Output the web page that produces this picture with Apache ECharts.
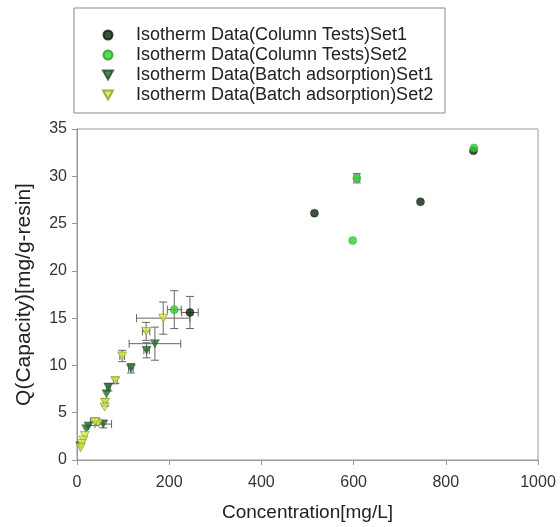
<!DOCTYPE html>
<html>
<head>
<meta charset="utf-8">
<script src="https://cdn.jsdelivr.net/npm/echarts@6/dist/echarts.min.js"></script>
<style>
  html, body { margin: 0; padding: 0; background: #fff; }
  #chart { width: 560px; height: 527px; }
</style>
</head>
<body>
<div id="chart"></div>
<script>
// series names
const names = [
  "Isotherm Data(Column Tests)Set1",
  "Isotherm Data(Column Tests)Set2",
  "Isotherm Data(Batch adsorption)Set1",
  "Isotherm Data(Batch adsorption)Set2"
];

// points [concentration, capacity]
const colSet1 = [[515, 26.1], [745, 27.3], [860, 32.7], [245, 15.6]];
const colSet2 = [[607, 29.8], [598, 23.2], [861, 33.0], [211, 15.9]];
const batchSet1 = [[169, 12.3], [151, 11.6], [117, 9.7], [68, 7.7], [64, 7.0], [57, 3.8], [25, 3.6], [20, 3.3], [7, 1.5]];
const batchSet2 = [[187, 15.0], [150, 13.6], [98, 11.0], [83, 8.4], [61, 6.1], [60, 5.6], [46, 3.9], [39, 4.05], [17, 2.6], [14, 2.1], [10, 1.75], [8, 1.3]];

// error bars [x, y, xErr, yErr]
const colSet1Err = [[245, 15.6, 18, 1.7]];
const colSet2Err = [[211, 15.9, 15, 2.0], [607, 29.8, 6, 0.5]];
const batchSet1Err = [[169, 12.3, 56, 1.75], [151, 11.6, 6, 0.8], [117, 9.7, 5, 0.5], [68, 7.7, 4, 0.4], [57, 3.8, 18, 0.4]];
const batchSet2Err = [[187, 15.0, 58, 1.7], [150, 13.6, 8, 0.95], [98, 11.0, 5, 0.6], [83, 8.4, 4, 0.3], [61, 6.1, 4, 0.4], [39, 4.05, 10, 0.4]];

const colors = ["#0c260f", "#36cc36", "#1f6a2a", "#d5e64c"];
const downTri = "path://M0,0L10,0L5,9Z";
const font = "Liberation Sans, Arial, sans-serif";

function errorSeries(data) {
  return {
    type: "custom",
    silent: true,
    z: 1,
    data: data,
    renderItem: function (params, api) {
      const x = api.value(0), y = api.value(1), dx = api.value(2), dy = api.value(3);
      const l = api.coord([x - dx, y]), r = api.coord([x + dx, y]);
      const t = api.coord([x, y + dy]), b = api.coord([x, y - dy]);
      const cap = 4;
      const style = { stroke: "#666", lineWidth: 1, fill: null };
      const lines = [
        [l, r], [t, b],
        [[l[0], l[1] - cap], [l[0], l[1] + cap]],
        [[r[0], r[1] - cap], [r[0], r[1] + cap]],
        [[t[0] - cap, t[1]], [t[0] + cap, t[1]]],
        [[b[0] - cap, b[1]], [b[0] + cap, b[1]]]
      ];
      return {
        type: "group",
        children: lines.map(p => ({
          type: "line",
          shape: { x1: p[0][0], y1: p[0][1], x2: p[1][0], y2: p[1][1] },
          style: style
        }))
      };
    }
  };
}

const chart = echarts.init(document.getElementById("chart"));
chart.setOption({
  animation: false,
  textStyle: { fontFamily: font },
  graphic: [{
    type: "rect",
    shape: { x: 74, y: 8, width: 371, height: 105 },
    style: { fill: "#fff", stroke: "#888", lineWidth: 1 },
    z: -1
  }],
  legend: {
    orient: "vertical",
    left: 97,
    top: 21,
    itemGap: 2,
    itemWidth: 10,
    itemHeight: 9,
    textStyle: { fontSize: 18, lineHeight: 18, color: "#222", fontFamily: font, padding: [0, 0, 0, 18] },
    data: [
      { name: names[0], icon: "circle" },
      { name: names[1], icon: "circle" },
      { name: names[2], icon: downTri },
      { name: names[3], icon: downTri }
    ]
  },
  grid: {
    left: 77, right: 22, top: 129, bottom: 67,
    show: true, borderColor: "#999", borderWidth: 1
  },
  xAxis: {
    type: "value",
    min: 0, max: 1000, interval: 200,
    name: "Concentration[mg/L]",
    nameLocation: "middle",
    nameGap: 43,
    nameTextStyle: { fontSize: 19, color: "#222" },
    axisLine: { show: true, lineStyle: { color: "#999" } },
    axisTick: { show: true, length: 5, lineStyle: { color: "#999" } },
    axisLabel: { fontSize: 16, color: "#333", margin: 15, formatter: v => String(v) },
    splitLine: { show: false }
  },
  yAxis: {
    type: "value",
    min: 0, max: 35, interval: 5,
    name: "Q(Capacity)[mg/g-resin]",
    nameLocation: "middle",
    nameGap: 42,
    nameTextStyle: { fontSize: 21, color: "#222" },
    axisLine: { show: true, lineStyle: { color: "#999" } },
    axisTick: { show: true, length: 5, lineStyle: { color: "#999" } },
    axisLabel: { fontSize: 16, color: "#333", margin: 10 },
    splitLine: { show: false }
  },
  series: [
    errorSeries(colSet1Err),
    errorSeries(colSet2Err),
    errorSeries(batchSet1Err),
    errorSeries(batchSet2Err),
    {
      name: names[0], type: "scatter", z: 3, data: colSet1,
      symbol: "circle", symbolSize: 8,
      itemStyle: { color: colors[0], borderColor: "#06160a", borderWidth: 0.5 }
    },
    {
      name: names[1], type: "scatter", z: 4, data: colSet2,
      symbol: "circle", symbolSize: 8,
      itemStyle: { color: colors[1], borderColor: "#1e9e1e", borderWidth: 0.5 }
    },
    {
      name: names[2], type: "scatter", z: 3, data: batchSet1,
      symbol: downTri, symbolSize: [9, 8],
      itemStyle: { color: colors[2], borderColor: "#1a4a1f", borderWidth: 0.5 }
    },
    {
      name: names[3], type: "scatter", z: 3, data: batchSet2,
      symbol: downTri, symbolSize: [9, 8],
      itemStyle: { color: colors[3], borderColor: "#8a9a2a", borderWidth: 0.8 }
    }
  ]
});
</script>
</body>
</html>
